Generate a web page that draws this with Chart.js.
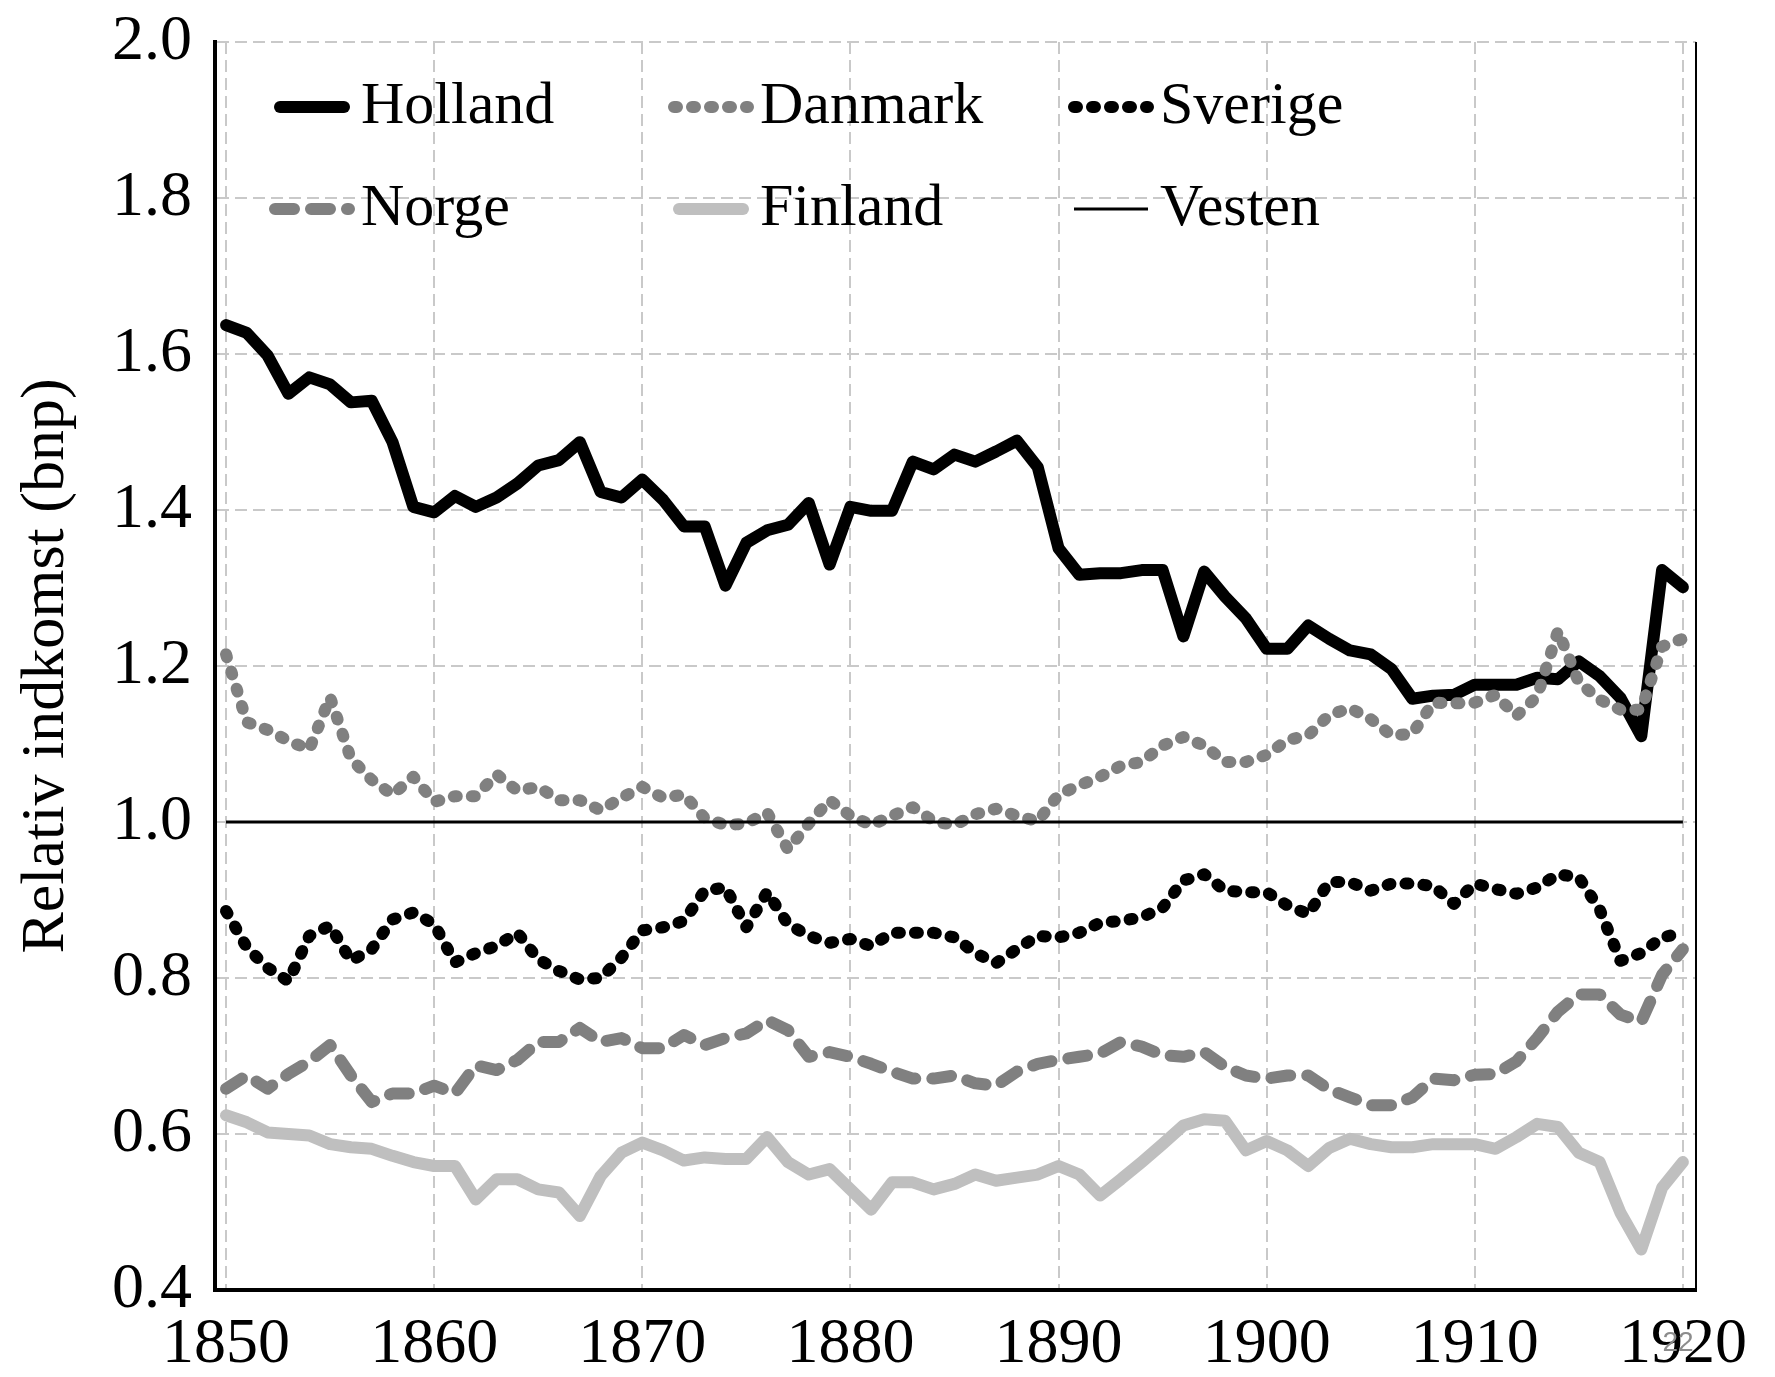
<!DOCTYPE html>
<html lang="da">
<head>
<meta charset="utf-8" />
<title>Relativ indkomst</title>
<script src="https://cdn.jsdelivr.net/npm/chart.js@4.4.1/dist/chart.umd.min.js"></script>
<style>
  html, body { margin: 0; padding: 0; background: #fff; }
  #chart { display: block; }
</style>
</head>
<body>
<canvas id="chart" width="1775" height="1377"></canvas>
<script>
// years 1850..1920
var years = [];
for (var y = 1850; y <= 1920; y++) years.push(y);

var xTicks = [1850, 1860, 1870, 1880, 1890, 1900, 1910, 1920];
var yTicks = [0.4, 0.6, 0.8, 1.0, 1.2, 1.4, 1.6, 1.8, 2.0];

var holland = [
  1.637, 1.627, 1.598, 1.549, 1.570, 1.561, 1.538, 1.540, 1.487, 1.404,
  1.397, 1.418, 1.404, 1.416, 1.434, 1.457, 1.464, 1.487, 1.423, 1.416,
  1.439, 1.413, 1.379, 1.379, 1.303, 1.358, 1.374, 1.381, 1.409, 1.330,
  1.404, 1.399, 1.399, 1.462, 1.452, 1.471, 1.462, 1.475, 1.489, 1.455,
  1.351, 1.317, 1.319, 1.319, 1.323, 1.323, 1.238, 1.321, 1.289, 1.261,
  1.222, 1.222, 1.252, 1.235, 1.220, 1.215, 1.196, 1.158, 1.162, 1.163,
  1.176, 1.176, 1.176, 1.185, 1.183, 1.206, 1.187, 1.159, 1.110, 1.323,
  1.301
];
var danmark = [
  1.215, 1.128, 1.118, 1.104, 1.093, 1.160, 1.081, 1.054, 1.035, 1.058,
  1.026, 1.033, 1.033, 1.061, 1.040, 1.045, 1.028, 1.028, 1.015, 1.031,
  1.045, 1.031, 1.035, 1.005, 0.996, 0.998, 1.012, 0.965, 0.998, 1.028,
  1.008, 0.996, 1.008, 1.019, 1.001, 0.996, 1.010, 1.017, 1.008, 1.001,
  1.035, 1.047, 1.058, 1.072, 1.077, 1.098, 1.109, 1.098, 1.077, 1.077,
  1.086, 1.105, 1.111, 1.137, 1.146, 1.132, 1.111, 1.113, 1.153, 1.152,
  1.153, 1.163, 1.136, 1.161, 1.245, 1.179, 1.157, 1.144, 1.144, 1.225,
  1.235
];
var sverige = [
  0.886, 0.839, 0.813, 0.796, 0.854, 0.867, 0.822, 0.837, 0.875, 0.884,
  0.869, 0.820, 0.832, 0.841, 0.858, 0.824, 0.809, 0.798, 0.800, 0.826,
  0.861, 0.865, 0.873, 0.912, 0.916, 0.865, 0.910, 0.869, 0.854, 0.845,
  0.850, 0.841, 0.858, 0.858, 0.858, 0.852, 0.832, 0.819, 0.837, 0.854,
  0.852, 0.858, 0.871, 0.873, 0.878, 0.890, 0.925, 0.933, 0.912, 0.910,
  0.910, 0.893, 0.882, 0.923, 0.923, 0.912, 0.921, 0.921, 0.918, 0.895,
  0.921, 0.914, 0.908, 0.916, 0.933, 0.929, 0.888, 0.822, 0.832, 0.852,
  0.858
];
var norge = [
  0.658, 0.675, 0.658, 0.677, 0.693, 0.714, 0.675, 0.641, 0.652, 0.652,
  0.662, 0.652, 0.688, 0.682, 0.695, 0.718, 0.718, 0.736, 0.718, 0.723,
  0.710, 0.710, 0.727, 0.714, 0.723, 0.729, 0.746, 0.733, 0.699, 0.705,
  0.699, 0.690, 0.680, 0.671, 0.671, 0.675, 0.665, 0.662, 0.680, 0.690,
  0.695, 0.699, 0.703, 0.718, 0.712, 0.701, 0.699, 0.705, 0.686, 0.675,
  0.671, 0.675, 0.675, 0.657, 0.647, 0.637, 0.637, 0.647, 0.671, 0.669,
  0.676, 0.677, 0.693, 0.723, 0.757, 0.779, 0.779, 0.753, 0.744, 0.804,
  0.837
];
var finland = [
  0.624, 0.615, 0.602, 0.600, 0.598, 0.587, 0.583, 0.581, 0.572, 0.564,
  0.559, 0.559, 0.516, 0.542, 0.542, 0.529, 0.525, 0.495, 0.546, 0.576,
  0.589, 0.579, 0.566, 0.570, 0.568, 0.568, 0.596, 0.564, 0.548, 0.555,
  0.529, 0.503, 0.538, 0.538, 0.529, 0.536, 0.548, 0.540, 0.544, 0.548,
  0.559, 0.548, 0.521, 0.542, 0.564, 0.587, 0.611, 0.619, 0.617, 0.579,
  0.591, 0.579, 0.559, 0.582, 0.594, 0.587, 0.583, 0.583, 0.587, 0.587,
  0.587, 0.581, 0.596, 0.613, 0.609, 0.576, 0.564, 0.499, 0.452, 0.531,
  0.564
];
var vesten = years.map(function () { return 1.0; });

var seriesNames = ["Holland", "Danmark", "Sverige", "Norge", "Finland", "Vesten"];

function pts(arr) {
  return arr.map(function (v, i) { return { x: years[i], y: v }; });
}

var serif = "'Liberation Serif', 'Times New Roman', serif";

var datasets = [
  { label: seriesNames[0], data: pts(holland), borderColor: "#000000", borderWidth: 12,
    borderCapStyle: "round", borderJoinStyle: "round", order: 6 },
  { label: seriesNames[1], data: pts(danmark), borderColor: "#808080", borderWidth: 12,
    borderDash: [3, 15], borderCapStyle: "round", borderJoinStyle: "round", order: 5 },
  { label: seriesNames[2], data: pts(sverige), borderColor: "#000000", borderWidth: 12,
    borderDash: [3, 15], borderCapStyle: "round", borderJoinStyle: "round", order: 4 },
  { label: seriesNames[3], data: pts(norge), borderColor: "#808080", borderWidth: 12,
    borderDash: [19, 17], borderCapStyle: "round", borderJoinStyle: "round", order: 3 },
  { label: seriesNames[4], data: pts(finland), borderColor: "#bfbfbf", borderWidth: 12,
    borderCapStyle: "round", borderJoinStyle: "round", order: 2 },
  { label: seriesNames[5], data: pts(vesten), borderColor: "#000000", borderWidth: 3,
    borderCapStyle: "butt", order: 1 }
];
datasets.forEach(function (d) {
  d.pointRadius = 0;
  d.pointHoverRadius = 0;
  d.tension = 0;
  d.fill = false;
});

// legend in 3 columns x 2 rows inside the plot, plus frame line and page number
var extras = {
  id: "extras",
  afterDraw: function (chart) {
    var ctx = chart.ctx;
    var area = chart.chartArea;

    // right frame line
    ctx.save();
    ctx.strokeStyle = "#000";
    ctx.lineWidth = 2;
    ctx.beginPath();
    ctx.moveTo(area.right, area.top);
    ctx.lineTo(area.right, area.bottom);
    ctx.stroke();
    ctx.restore();

    // legend
    var colX = [275, 674, 1074];
    var rowY = [107, 209];
    chart.data.datasets.forEach(function (ds, i) {
      var x0 = colX[i % 3];
      var y0 = rowY[Math.floor(i / 3)];
      ctx.save();
      ctx.strokeStyle = ds.borderColor;
      ctx.lineWidth = ds.borderWidth;
      ctx.lineCap = ds.borderCapStyle || "butt";
      ctx.setLineDash(ds.borderDash || []);
      ctx.beginPath();
      var pad = ds.borderCapStyle === "round" && !ds.borderDash ? 5 : 0;
      ctx.moveTo(x0 + pad, y0);
      ctx.lineTo(x0 + 74 - pad, y0);
      ctx.stroke();
      ctx.restore();
      ctx.save();
      ctx.fillStyle = "#000";
      ctx.font = "60px " + serif;
      ctx.textBaseline = "middle";
      ctx.textAlign = "left";
      ctx.fillText(ds.label, x0 + 86, y0);
      ctx.restore();
    });

    // page number
    ctx.save();
    ctx.fillStyle = "#8c8c8c";
    ctx.font = "28px 'Liberation Sans', sans-serif";
    ctx.textAlign = "center";
    ctx.textBaseline = "middle";
    ctx.fillText("22", 1678, 1343);
    ctx.restore();
  }
};

new Chart(document.getElementById("chart"), {
  type: "line",
  data: { datasets: datasets },
  options: {
    responsive: false,
    animation: false,
    events: [],
    layout: { padding: { top: 42, right: 79, left: 0, bottom: 0 } },
    plugins: {
      legend: { display: false },
      tooltip: { enabled: false }
    },
    scales: {
      x: {
        type: "linear",
        min: 1849.47,
        max: 1920.63,
        afterBuildTicks: function (axis) {
          axis.ticks = xTicks.map(function (v) { return { value: v }; });
        },
        afterFit: function (axis) { axis.height = 87; },
        ticks: {
          autoSkip: false,
          maxRotation: 0,
          padding: 17,
          color: "#000",
          font: { family: serif, size: 64 },
          callback: function (v) { return String(v); }
        },
        grid: { color: "#c9c9c9", lineWidth: 2, drawTicks: false },
        border: { display: true, color: "#000", width: 4, dash: [12, 6] }
      },
      y: {
        type: "linear",
        min: 0.4,
        max: 2.0,
        afterBuildTicks: function (axis) {
          axis.ticks = yTicks.map(function (v) { return { value: v }; });
        },
        afterFit: function (axis) {
          axis.width = 215;
          // keep the plot top fixed by the layout padding
          axis.paddingTop = 0;
          axis.paddingBottom = 0;
        },
        ticks: {
          padding: 23,
          color: "#000",
          font: { family: serif, size: 64 },
          callback: function (v) { return Number(v).toFixed(1); }
        },
        grid: { color: "#c9c9c9", lineWidth: 2, drawTicks: false },
        border: { display: true, color: "#000", width: 4, dash: [12, 6] },
        title: {
          display: true,
          text: "Relativ indkomst (bnp)",
          color: "#000",
          font: { family: serif, size: 62, lineHeight: 1 },
          padding: { top: 16, bottom: 0 }
        }
      }
    }
  },
  plugins: [extras]
});
</script>
</body>
</html>
